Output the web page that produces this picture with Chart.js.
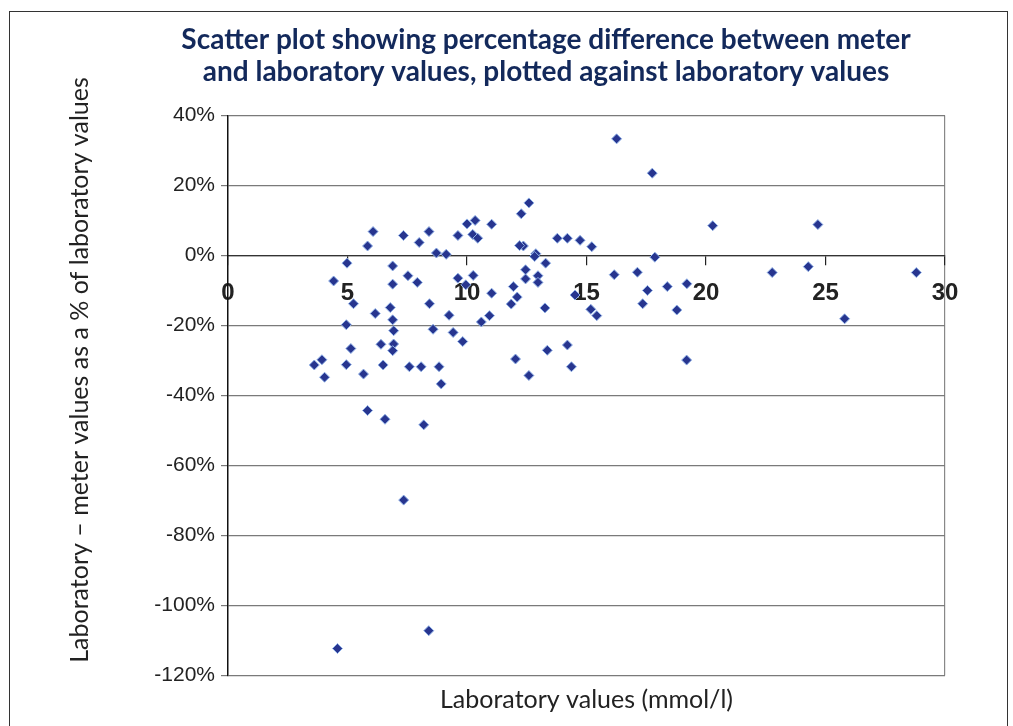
<!DOCTYPE html>
<html>
<head>
<meta charset="utf-8">
<title>Scatter plot</title>
<script src="https://cdn.jsdelivr.net/npm/chart.js@4.4.1/dist/chart.umd.min.js"></script>
<style>
  body { margin: 0; background: #fff; }
  #wrap { position: relative; width: 1013px; height: 726px; overflow: hidden; }
  #frame { position: absolute; left: 9px; top: 11px; width: 997px; height: 760px;
           border: 1.5px solid #333; pointer-events: none; }
  canvas { position: absolute; left: 0; top: 0; }
</style>
</head>
<body>
<div id="wrap">
  <canvas id="chart" width="1013" height="726"></canvas>
  <div id="frame"></div>
</div>
<script>
// Dữ liệu: giá trị phòng xét nghiệm (mmol/l) và % chênh lệch
const labValues = [
  6.07, 5.84, 4.98, 4.42, 7.34, 8.0, 8.41, 8.72, 9.13, 6.89,
  7.53, 7.92, 6.89, 9.62, 10.0, 10.34, 10.24, 10.45, 9.62, 10.26,
  9.95, 16.26, 17.75, 12.59, 12.27, 11.03, 12.36, 13.78, 14.2, 14.73,
  15.22, 12.88, 12.83, 13.29, 17.86, 20.28, 12.45, 12.45, 12.97, 12.97,
  11.94, 11.03, 12.1, 16.16, 17.13, 17.55, 18.38, 19.2, 14.52, 24.68,
  22.77, 24.28, 28.8, 25.8, 5.25, 6.16, 6.79, 6.89, 4.95, 6.93,
  8.43, 9.25, 8.58, 9.42, 9.82, 5.14, 6.4, 6.93, 6.89, 3.93,
  3.61, 4.04, 4.95, 5.67, 6.49, 7.59, 8.08, 8.83, 8.92, 5.84,
  6.57, 8.19, 10.6, 11.85, 10.94, 13.26, 15.18, 15.43, 17.35, 18.78,
  12.03, 12.59, 13.36, 14.2, 14.37, 19.19, 7.35, 8.4, 4.58, 12.2
];
const pctDiff = [
  6.8, 2.7, -2.2, -7.3, 5.7, 3.7, 6.8, 0.7, 0.3, -3.0,
  -5.8, -7.7, -8.2, 5.7, 9.0, 10.0, 6.0, 4.9, -6.5, -5.7,
  -8.4, 33.3, 23.5, 15.0, 11.9, 8.9, 2.7, 4.9, 4.9, 4.3,
  2.5, 0.5, -0.3, -2.2, -0.5, 8.5, -4.1, -6.7, -5.8, -7.7,
  -8.9, -10.8, -11.9, -5.5, -4.8, -10.0, -8.9, -8.1, -11.3, 8.8,
  -4.9, -3.2, -4.9, -18.1, -13.8, -16.6, -14.9, -18.4, -19.8, -21.5,
  -13.8, -17.1, -21.1, -22.0, -24.6, -26.6, -25.4, -25.3, -27.2, -29.8,
  -31.3, -34.8, -31.2, -33.9, -31.3, -31.8, -31.8, -31.8, -36.7, -44.3,
  -46.8, -48.4, -19.0, -13.9, -17.2, -15.0, -15.4, -17.2, -13.8, -15.6,
  -29.6, -34.3, -27.1, -25.6, -31.8, -29.9, -69.9, -107.2, -112.3, 2.8
];
const xTicks = [0, 5, 10, 15, 20, 25, 30];
const yTicks = [-120, -100, -80, -60, -40, -20, 0, 20, 40];

const titleLines = [
  'Scatter plot showing percentage difference between meter',
  'and laboratory values, plotted against laboratory values'
];
const xTitle = 'Laboratory values (mmol/l)';
const yTitle = 'Laboratory \u2013 meter values as a % of laboratory values';

const points = labValues.map((v, i) => ({x: v, y: pctDiff[i]}));

// Tiêu đề trục tung (vẽ tay để đặt đúng vị trí)
const yTitlePlugin = {
    id: 'yTitle',
    afterDraw(chart) {
        const c = chart.ctx;
        c.save();
        c.translate(80, 370);
        c.rotate(-Math.PI / 2);
        c.font = '25px Lato';
        c.fillStyle = '#222';
        c.textAlign = 'center';
        c.textBaseline = 'middle';
        c.fillText(yTitle, 0, 0);
        c.restore();
    }
};

const ctx = document.getElementById('chart').getContext('2d');

new Chart(ctx, {
    type: 'scatter',
    data: {
        datasets: [{
            data: points,
            pointStyle: 'rectRot',
            pointRadius: 5,
            backgroundColor: '#27358f',
            borderColor: '#8fb0e6',
            borderWidth: 1
        }]
    },
    options: {
        responsive: false,
        animation: false,
        layout: {padding: {left: 147, right: 68, top: 0, bottom: 0}},
        plugins: {
            legend: {display: false},
            tooltip: {enabled: false},
            title: {
                display: true,
                text: titleLines,
                color: '#13295b',
                font: {family: 'Lato', size: 28, weight: 'bold', lineHeight: 1.15},
                padding: {top: 24, bottom: 27}
            },
            subtitle: {
                display: true,
                position: 'bottom',
                fullSize: false,
                text: xTitle,
                color: '#222',
                font: {family: 'Lato', size: 25, lineHeight: 1.1},
                padding: {top: 11, bottom: 12}
            }
        },
        scales: {
            x: {
                type: 'linear',
                position: {y: 0},
                min: 0,
                max: 30,
                afterBuildTicks: scale => { scale.ticks = xTicks.map(v => ({value: v})); },
                ticks: {
                    color: '#222',
                    padding: 15,
                    maxRotation: 0,
                    font: {family: 'Liberation Sans', size: 24, weight: 'bold'}
                },
                grid: {
                    drawOnChartArea: true,
                    color: c => (c.tick && c.tick.value === 30) ? '#888' : 'rgba(0,0,0,0)',
                    tickColor: '#222',
                    tickLength: 9,
                    lineWidth: 1.2
                },
                border: {display: true, color: '#333', width: 1.2}
            },
            y: {
                type: 'linear',
                min: -120,
                max: 40,
                afterBuildTicks: scale => { scale.ticks = yTicks.map(v => ({value: v})); },
                afterFit: scale => { scale.width = 81; },
                ticks: {
                    color: '#222',
                    padding: 6,
                    callback: v => v + '%',
                    font: {family: 'Liberation Sans', size: 21}
                },
                grid: {
                    color: '#7a7a7a',
                    tickLength: 7,
                    lineWidth: 1.2
                },
                border: {display: true, color: '#111', width: 1.5}
            }
        }
    },
    plugins: [yTitlePlugin]
});
</script>
</body>
</html>
